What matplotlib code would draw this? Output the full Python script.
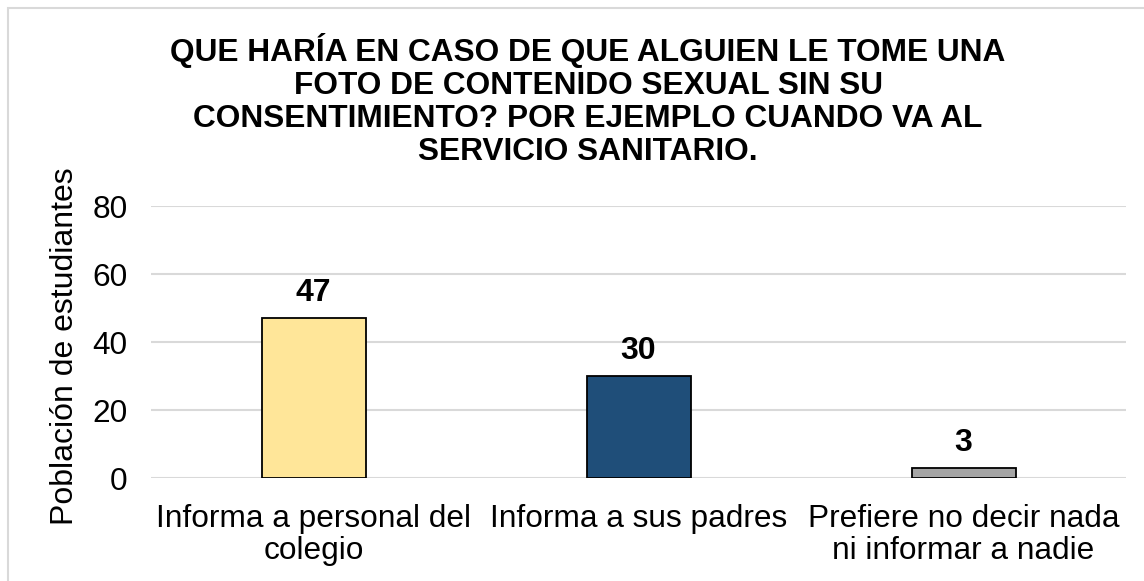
import matplotlib.pyplot as plt
from matplotlib.patches import Rectangle

plt.rcParams['font.family'] = ['Liberation Sans', 'DejaVu Sans']

# Data
categories = ["Informa a personal del\ncolegio", "Informa a sus padres",
              "Prefiere no decir nada\nni informar a nadie"]
values = [47, 30, 3]
colors = ["#FFE699", "#1F4E79", "#A5A5A5"]
title = ("QUE HARÍA EN CASO DE QUE ALGUIEN LE TOME UNA\n"
         "FOTO DE CONTENIDO SEXUAL SIN SU\n"
         "CONSENTIMIENTO? POR EJEMPLO CUANDO VA AL\n"
         "SERVICIO SANITARIO.")
yticks = [0, 20, 40, 60, 80]

fig = plt.figure(figsize=(11.44, 5.81), dpi=100)
W, H = 1144, 581
ax = fig.add_axes([151 / W, 1 - 478 / H, 975 / W, 272 / H])

x = range(len(categories))
bars = ax.bar(x, values, width=0.32, color=colors, edgecolor="black",
              linewidth=1.3, zorder=3)

for xi, v in zip(x, values):
    ax.annotate(str(v), (xi, v), xytext=(0, 7), textcoords="offset points",
                ha="center", va="bottom", fontsize=23, fontweight="bold")

ax.set_xlim(-0.5, 2.5)
ax.set_ylim(0, 80)
ax.set_yticks(yticks)
ax.set_xticks(list(x))
ax.set_xticklabels(categories, fontsize=22.8, linespacing=1.05)
ax.tick_params(axis="y", length=0, pad=17, labelsize=22.8)
ax.tick_params(axis="x", length=0, pad=19)
for t in ax.get_xticklabels():
    t.set_verticalalignment("top")
ax.grid(axis="y", color="#D9D9D9", linewidth=1.5, zorder=0)
for s in ax.spines.values():
    s.set_visible(False)

fig.text(65 / W, 1 - 346 / H, "Población de estudiantes", rotation=90,
         ha="center", va="center", fontsize=23)

fig.text(588 / W, 1 - 100 / H, title, ha="center", va="center",
         fontsize=22.8, fontweight="bold", linespacing=1.13)

fig.patches.append(Rectangle((8 / W, -0.1), 1.2, 1.1 - 8 / H,
                             transform=fig.transFigure, fill=False,
                             edgecolor="#D9D9D9", linewidth=1.5))

fig.savefig("out.png", dpi=100)
